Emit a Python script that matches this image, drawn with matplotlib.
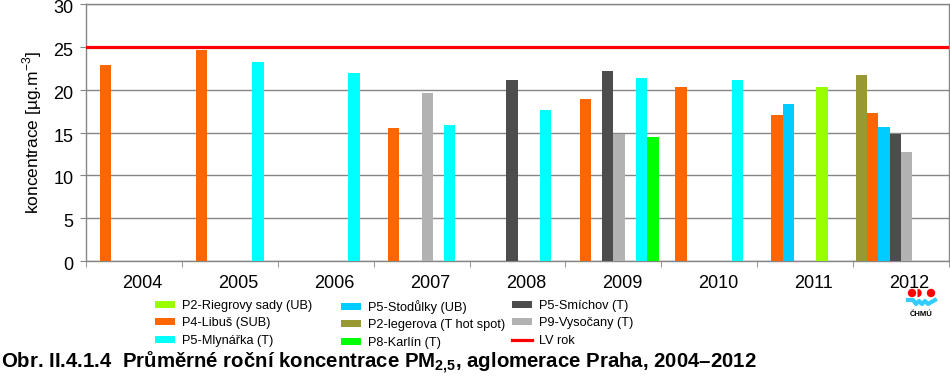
import numpy as np
import matplotlib
matplotlib.use("Agg")
import matplotlib.pyplot as plt
import matplotlib.transforms as mtransforms
from matplotlib.patches import Patch, Circle, Wedge
from matplotlib.lines import Line2D

plt.rcParams['font.family'] = ['Liberation Sans', 'DejaVu Sans']
plt.rcParams['mathtext.fontset'] = 'custom'
plt.rcParams['mathtext.rm'] = 'Liberation Sans'
plt.rcParams['mathtext.bf'] = 'Liberation Sans:bold'

nan = np.nan

# data
years = ['2004', '2005', '2006', '2007', '2008', '2009', '2010', '2011', '2012']
legerova = [nan, nan, nan, nan, nan, nan, nan, nan, 21.7]
libus = [22.9, 24.6, nan, 15.5, nan, 18.9, 20.3, 17.1, 17.3]
stodulky = [nan, nan, nan, nan, nan, nan, nan, 18.3, 15.6]
smichov = [nan, nan, nan, nan, 21.1, 22.2, nan, nan, 14.8]
vysocany = [nan, nan, nan, 19.6, nan, 14.8, nan, nan, 12.7]
riegrovy = [nan, nan, nan, nan, nan, nan, nan, 20.3, nan]
mlynarka = [nan, 23.2, 22.0, 15.9, 17.6, 21.4, 21.1, nan, nan]
karlin = [nan, nan, nan, nan, nan, 14.5, nan, nan, nan]
lv_rok = 25

# order of bars inside one year (as in the source chart)
series = [
    (legerova, '#999933', 'P2-legerova (T hot spot)'),
    (libus, '#FF6600', 'P4-Libuš (SUB)'),
    (stodulky, '#00CCFF', 'P5-Stodůlky (UB)'),
    (smichov, '#4D4D4D', 'P5-Smíchov (T)'),
    (vysocany, '#B2B2B2', 'P9-Vysočany (T)'),
    (riegrovy, '#99FF00', 'P2-Riegrovy sady (UB)'),
    (mlynarka, '#00FFFF', 'P5-Mlynářka (T)'),
    (karlin, '#00FF00', 'P8-Karlín (T)'),
]

W, H = 950, 377
fig = plt.figure(figsize=(9.5, 3.77), dpi=100)
ax = fig.add_axes([86 / W, 1 - 261 / H, 863 / W, 257 / H])

x = np.arange(len(years))
w = 0.1178
for k, (vals, col, lab) in enumerate(series):
    ax.bar(x + (k - 3.5) * w, vals, width=w, color=col, edgecolor='none', zorder=3)

ax.axhline(lv_rok, color='#FF0000', lw=2.3, zorder=4)

ax.set_xlim(-0.5, len(years) - 0.5)
ax.set_ylim(0, 30)
ax.set_yticks(np.arange(0, 31, 5))
ax.yaxis.grid(True, color='#868686', lw=1, zorder=0)
for s in ax.spines.values():
    s.set_color('#868686')
    s.set_linewidth(1)

ax.set_xticks(x)
ax.set_xticklabels(years)
ax.set_xticks(np.arange(-0.5, len(years)), minor=True)
ax.tick_params(axis='x', which='major', length=0, pad=10, labelsize=13)
ax.tick_params(axis='x', which='minor', length=4, color='#868686')
ax.tick_params(axis='y', length=4, color='#868686', pad=5, labelsize=13)
# year labels sit a bit right of the category centre, y labels a bit low
offset = mtransforms.ScaledTranslation(8.5 / 100, 0, fig.dpi_scale_trans)
for lbl in ax.get_xticklabels():
    lbl.set_transform(lbl.get_transform() + offset)
yoff = mtransforms.ScaledTranslation(0, -2.5 / 100, fig.dpi_scale_trans)
for lbl in ax.get_yticklabels():
    lbl.set_transform(lbl.get_transform() + yoff)

ax.set_ylabel(r'koncentrace [µg.m$^{\mathregular{-3}}$]', fontsize=12.5, labelpad=7)

# legend in three columns
by_label = {lab: col for _, col, lab in series}
cols = [
    ['P2-Riegrovy sady (UB)', 'P4-Libuš (SUB)', 'P5-Mlynářka (T)'],
    ['P5-Stodůlky (UB)', 'P2-legerova (T hot spot)', 'P8-Karlín (T)'],
    ['P5-Smíchov (T)', 'P9-Vysočany (T)', 'LV rok'],
]
col_x = [155, 341, 512]
for cx, labs in zip(col_x, cols):
    handles = []
    for lab in labs:
        if lab == 'LV rok':
            handles.append(Line2D([], [], color='#FF0000', lw=2.3))
        else:
            handles.append(Patch(facecolor=by_label[lab], edgecolor='none'))
    fig.legend(handles, labs, loc='upper left', bbox_to_anchor=(cx / W, 1 - 300 / H),
               frameon=False, fontsize=9.2, handlelength=1.55, handleheight=0.45,
               handletextpad=0.6, labelspacing=0.42, borderpad=0, borderaxespad=0)

fig.text(1 / W, 1 - 363 / H,
         r'Obr. II.4.1.4  Průměrné roční koncentrace PM$_\mathbf{2{,}5}$, aglomerace Praha, 2004–2012',
         fontsize=14.7, fontweight='bold', va='center', ha='left')

# CHMU logo
lax = fig.add_axes([902 / W, 1 - 320 / H, 38 / W, 34 / H])
lax.set_xlim(0, 38)
lax.set_ylim(0, 34)
lax.axis('off')
lax.add_patch(Circle((10, 27), 4.2, color='#FF0000', lw=0))
lax.add_patch(Wedge((15.5, 27), 4.2, -90, 90, color='#FF0000', lw=0))
lax.add_patch(Circle((29, 27), 4.2, color='#FF0000', lw=0))
lax.plot([6, 11, 14, 17, 20, 23, 26, 33], [20, 20, 16, 19, 16, 19, 16, 20],
         color='#33CCFF', lw=3, solid_joinstyle='round')
lax.text(19, 6, 'ČHMÚ', fontsize=5.5, fontweight='bold', ha='center', va='center')

fig.savefig('out.png', dpi=100)
